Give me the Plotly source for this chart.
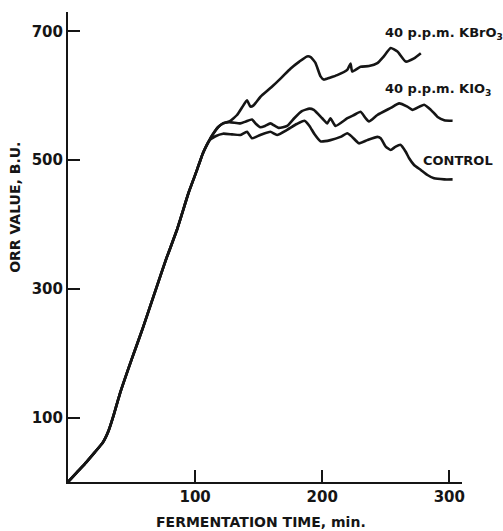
import plotly.graph_objects as go

# ---- data ----
rise_x = [0, 7, 14.5, 21, 27.6, 32, 35.5, 40.8, 50, 59.2, 69.8, 77, 85.6, 95, 101, 106, 111]
rise_y = [0, 15, 31, 46, 62, 80, 101, 137, 190, 241, 303, 345, 391, 450, 482, 510, 530]

control_x = [116, 122, 129, 135.5, 140.8, 144.7, 151.3, 159.2, 164.5, 172.4, 180, 186, 190, 194,
             198.7, 206.5, 214.4, 219.7, 223.6, 228.9, 235.5, 243.4, 246, 250, 253.9, 257.8,
             261.8, 265.7, 268.4, 272.3, 277.6, 282.8, 288, 296, 302.6]
control_y = [537, 541, 540, 539, 544, 534, 539, 544, 539, 547, 556, 561, 553, 540,
             529, 531, 536, 541.7, 536, 526, 531, 536, 534, 521, 515.6, 521,
             523.6, 513, 502.8, 492.4, 484.6, 476.8, 471.6, 470, 470]

kio3_x = [114, 118, 122, 127, 135.5, 140, 144.7, 148, 151.3, 155, 159.2, 165.8, 172.4, 178, 184,
          190, 193.4, 200, 204, 206.5, 210.5, 219.8, 225, 230.2, 234.2, 236.8, 243.4, 253.9,
          260.5, 267, 271, 280.2, 285.5, 290.8, 296, 302.6]
kio3_y = [540, 551, 557, 559, 557, 560, 563, 556, 551, 553, 557, 550, 553, 565, 576,
          580, 578, 565, 557, 565, 553, 565, 570, 575, 565, 560, 570, 581,
          588, 583, 578, 586, 578, 567, 562, 561]

kbro3_x = [114, 118, 122, 127, 133, 137, 140.8, 143.5, 146, 151.3, 160, 168, 175, 182, 188, 191,
           194.7, 198.7, 201.3, 206, 211.8, 219.7, 222.3, 223.6, 230.2, 236.8, 243.4, 248,
           253.9, 259.2, 265.7, 272.3, 277.6]
kbro3_y = [540, 551, 557, 560, 570, 582, 593, 583, 585, 598, 613, 628, 642, 653, 661, 660,
           651, 630, 625, 628, 632, 640, 650, 637.5, 645, 646, 650.5, 660,
           674, 668.6, 653, 658, 666]

x_ticks = [100, 200, 300]
y_ticks = [100, 300, 500, 700]

series = [
    (rise_x + control_x, rise_y + control_y),
    (rise_x + kio3_x, rise_y + kio3_y),
    (rise_x + kbro3_x, rise_y + kbro3_y),
]

labels = [
    ("40 p.p.m. KBrO<sub>3</sub>", 247.5, 697),
    ("40 p.p.m. KIO<sub>3</sub>", 247.5, 610),
    ("CONTROL", 278, 499),
]

INK = "#151515"
FONT = "DejaVu Sans"

fig = go.Figure()
for xs, ys in series:
    fig.add_trace(go.Scatter(x=xs, y=ys, mode="lines",
                             line=dict(color=INK, width=2.6, shape="spline", smoothing=0.45),
                             hoverinfo="skip"))

for text, lx, ly in labels:
    fig.add_annotation(x=lx, y=ly, xref="x", yref="y", text=text, showarrow=False,
                       xanchor="left", yanchor="middle",
                       font=dict(family=FONT, size=13, color=INK, weight="bold"))

fig.add_annotation(x=-0.135, y=0.585, xref="paper", yref="paper", text="ORR VALUE, B.U.",
                   showarrow=False, textangle=-90, xanchor="center", yanchor="middle",
                   font=dict(family=FONT, size=14, color=INK, weight="bold"))
fig.add_annotation(x=0.49, y=-0.085, xref="paper", yref="paper", text="FERMENTATION TIME, min.",
                   showarrow=False, xanchor="center", yanchor="middle",
                   font=dict(family=FONT, size=14, color=INK, weight="bold"))

axis_common = dict(showline=True, linecolor=INK, linewidth=2, ticks="inside", ticklen=12,
                   tickwidth=2, tickcolor=INK, showgrid=False, zeroline=False,
                   tickfont=dict(family=FONT, size=15, color=INK, weight="bold"))

fig.update_xaxes(range=[0, 310], tickvals=x_ticks, **axis_common)
fig.update_yaxes(range=[0, 730], tickvals=y_ticks, **axis_common)

fig.update_layout(width=503, height=531, margin=dict(l=68, r=41, t=12, b=49),
                  plot_bgcolor="white", paper_bgcolor="white", showlegend=False)

fig.write_html("out.html", config={"displayModeBar": False},
               post_script="document.body.style.margin='0px';document.body.style.overflow='hidden';")
